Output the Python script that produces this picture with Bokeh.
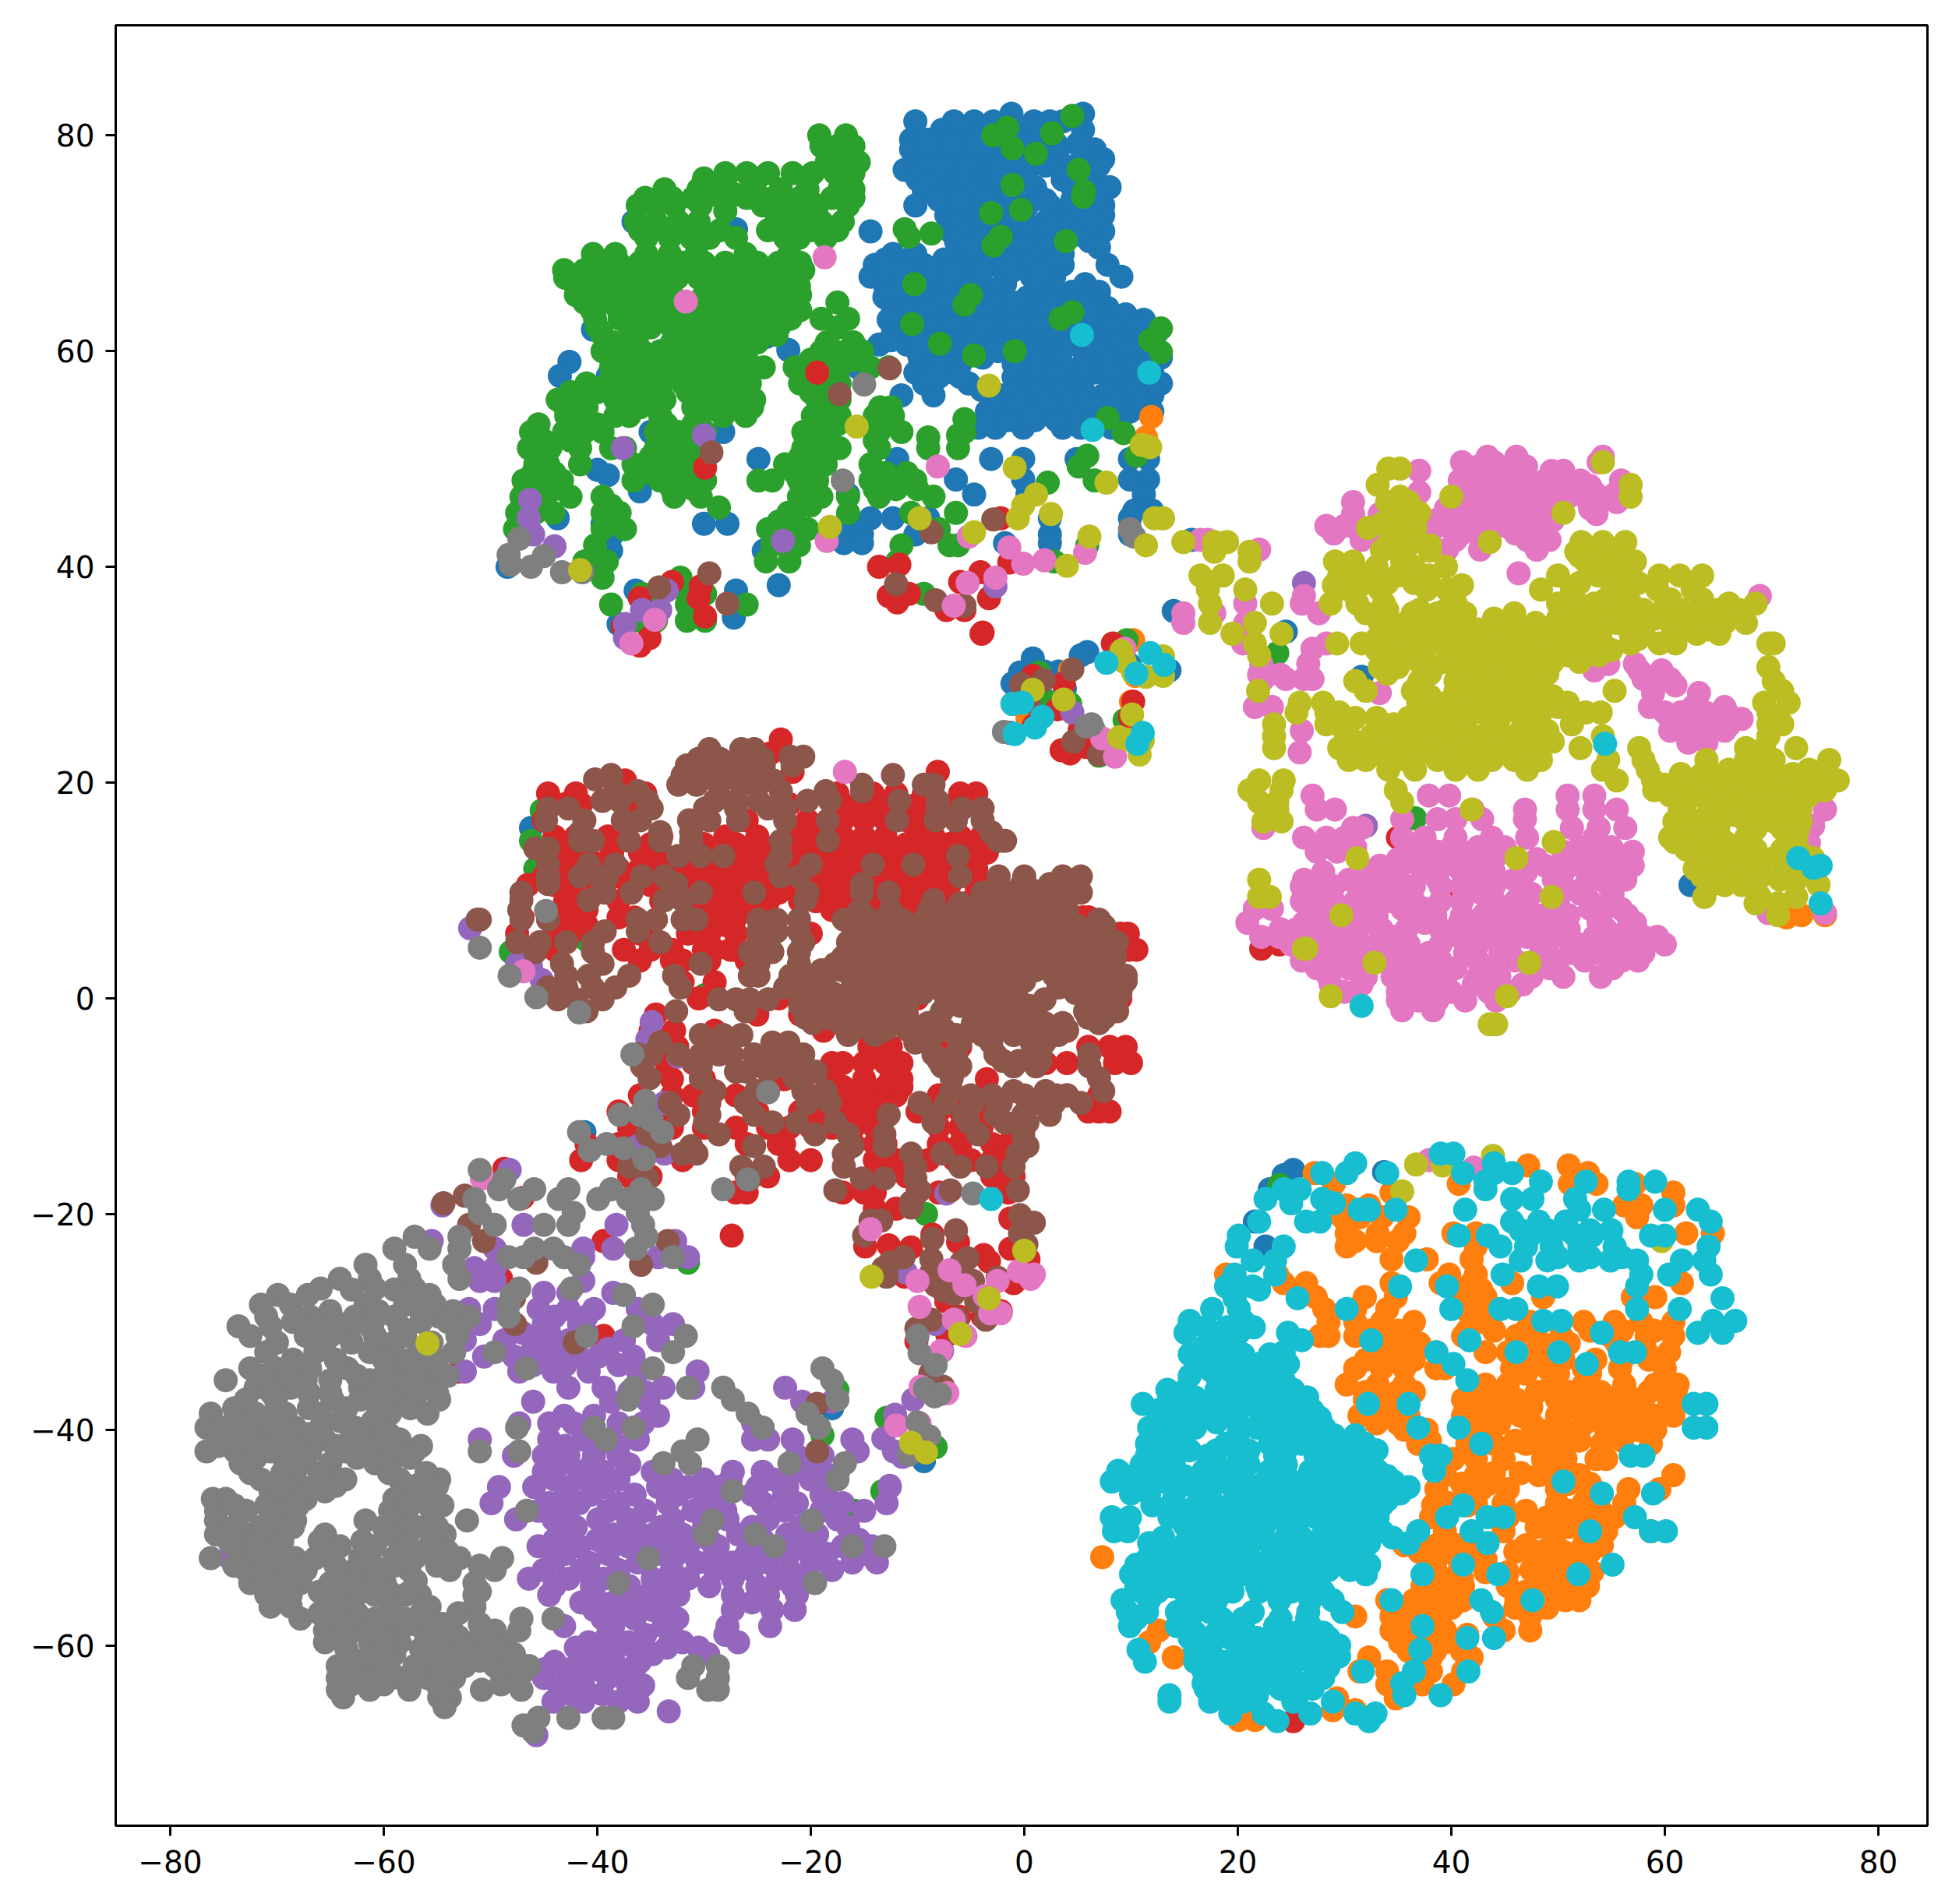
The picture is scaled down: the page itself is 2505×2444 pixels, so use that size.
from bokeh.plotting import figure
from bokeh.embed import file_html
from bokeh.resources import INLINE
from bokeh.models import FixedTicker, Range1d

# each row: (y, [x, x, ...]), in data units
c0_blue = [
(82,[-1.2,5.5]),(81.3,[-6.6,-10.2,-4.7,-2.9,0.9,3.6,2.4]),(80.5,[-7.7,-6,-3,-1,0.9,2.4,5.5]),
(79.6,[-10.6,-9,-6,-3.9,-0.2]),(78.7,[-10.6,-8.1,-5.6,-3.1,0.7,3.2,6.6]),(77.8,[-9.4,-6.9,-3.9,-1,7.4,5.7]),
(76.8,[-11.2,-9.8,-7.3,-4.8,-2.2,0.3,3.6,6.1]),(75.9,[-10,-8.1,-6,-3.5,-0.6,3.6,6.6]),(74.8,[-9.4,-7.3,-4.8,-2.2,1.1,7.4,5.7]),
(73.5,[-10.2,-6.9,-4.8,-2.2,0.3,2.4,5.3,7.4]),(72.6,[-7.3,-5.2,-2.2,-0.1,3.6,5.7,7.4]),(71.1,[-14.4,-6.9,-4.8,-2.7,-0.1,1.1,4,6.1,7.4]),
(70.2,[-6.4,-4.3,-1.8,2.8,6.1]),(69,[-12.3,-10.2,-6.4,-3.9,-1.4,0.7,3.6]),(68,[-14,-11.9,-9.4,-5.6,-2.7,-0.1,1.9,3.6,7.8]),
(66.9,[-14.4,-12.3,-9.8,-8.1,-5.6,-1.8,0.7,2.8,9.1]),(66.2,[-13.1,-10.6,-8.5,-3.9,-1.8,2.4,5.7]),(65,[-13.1,-11,-8.5,-5.6,-3.1,0.3,2.8,6.1]),
(64,[-12.3,-9.8,-6.9,-4.3,-1.8,0.7,3.6,7.8]),(62.9,[-12.7,-10.2,-7.7,-5.2,-2.2,0.3,2.8,6.6,8.7,11.2]),(61.7,[-12.3,-9.8,-7.7,-4.8,-1.8,1.1,3.6,7.4,9.9,12.4]),
(60.6,[-13.6,-11,-8.9,-6.4,-3.9,-1,2,4.9,8.2,11.6]),(59.4,[-9.8,-7.3,-3.9,-0.6,2,5.7,8.7,11.2,12.8]),(58,[-6.6,-10.2,-0.6,2,4.5,6.6,9.5,12]),
(57,[-5.2,-9.4,-0.1,2,4.9,9.1,11.2,12.8]),(55.9,[-11.5,-8.5,-2.2,0.7,3.2,5.3,7.4,10.3,12]),(54.4,[-3.5,-1,1.5,4,6.6,9.9,12]),
(52.9,[-4.3,-2.7,-0.1,3.6,5.3,8.2,-5.4]),(50,[-3.1,-0.1,4.9,9.9,11.6,-24.9,-11.9]),(48.1,[-6.4,-0.1,9.9,11.6]),
(46.7,[-4.7,0.3,11.2,-16.5]),(45.2,[12,10.3]),(44.5,[-16.5,-14.4,-12.3,-9,2.4,9.9]),(43,[-17.3,-15.2,-10.2,2.4,9.9]),(42.2,[-16.9,-15.2,-1.8,2.4]),
(72,[-36.6]),(71.3,[-27]),(62,[-40.4]),(59,[-42.6]),(57.7,[-43.5,-39]),(54.5,[-30.5]),(52.5,[-35,-28.2]),(49,[-40]),(48.5,[-39]),(47,[-36]),
(44.5,[-43.7]),(44,[-39.5,-30,-27.8]),(42.8,[-38.7]),(41.5,[-38.7,-24.4]),(40,[-48.4,-40.8]),(38.3,[-23]),(35.3,[-27.2]),(37.8,[-36.4,-27]),(34.7,[-38]),
(60.1,[-22.1]),(61.3,[-24.2]),(58.5,[-15.6]),
(31.5,[0.8]),(30.2,[-0.4]),(29.2,[-1.1]),(30.3,[3.2,1.9]),(32.1,[5.9]),(31.8,[5.3]),(30.4,[13.6]),(30.9,[9.9]),(24.6,[-1.3]),(28.7,[3.8]),
(42.5,[15.7]),(35.9,[14]),(42.9,[33.3]),(34,[24.5]),(10.5,[62.4]),(29.8,[31.6]),
(-15.9,[25.2]),(-16.4,[24.3]),(-17.7,[23]),(-20.7,[21.6]),(-23,[22.6]),(-16.1,[33.7]),(15.8,[-46.2]),(-12.4,[-41.2]),(-38,[-18]),(-44.2,[-17.5]),(-42.9,[-9.4]),
(79.2,[-9,-7,-4.5,-2,1,3,5]),(77.2,[-8,-5.5,-2.5,0,2,4.8,7]),(75.2,[-9,-5.5,-2.8,-1,1,4.5,6,8]),(74,[-8,-6,-3.5,-1,2,4.5,6.5]),(72,[-6,-3.5,-1,2,4.5,6.5]),
(70.8,[-5.8,-3.5,-1,0.5,2,5]),(69.6,[-5,-2.5,0,2.5,7]),(68.5,[-13,-10.8,-7.5,-4.5,-1.5,1,3]),(67.4,[-13,-11,-8.5,-6.8,-4,-1.2,1.5]),(65.5,[-12,-9.5,-7,-4.5,-2.5,1,4.5,7]),
(64.5,[-11,-7.5,-5.5,-3,-0.5,2,5,7]),(63.4,[-11,-9,-6,-3.5,-1,1.8,4.5,6.5,9.5]),(62.2,[-11,-9,-6.5,-3.8,-1,1.5,5,8,10.5]),(61,[-12.5,-10,-7.8,-5.5,-2.8,0,3,6,9,11]),
(60,[-10,-8,-5,-2.5,1,3.5,7,10,12]),(58.8,[-8.5,-6,-1,1,3.5,5.5,8,10.5]),(57.6,[-8,-6,-1,1,3,5.5,8,11]),(56.4,[-4,-1,1.5,3.5,5.5,8,10.5]),(55.2,[-2.5,-0.5,2,4.5,6,8.5,11]),(53.6,[-3.5,-1.5,1,3,5,7.5,9]),
]
c1_orange = [
(-15.5,[47.2,51]),(-16.2,[52.8,27.2]),(-17.2,[51.1,53.6,40.7,57.2,29]),(-18,[34.4,60.8]),(-19.2,[30.2,56.2,57.8,60.8,32.3]),
(-20.3,[29.8,31.4,33.5,36,57.4]),(-21.8,[30.2,33.1,35.6,40.2,42.3,62,64.5]),(-23,[30.2,42.3]),(-24.2,[34.4,37.7,41.9]),(-25.6,[18.9,23.7,39.8,42.3]),
(-26.4,[26.4,24.3,34.4,39,41.9,45.7,61.6]),(-27.7,[27.3,31.9,34.8,41.1,43.2,48.6,57,59.1]),(-28.8,[28.1,31,34,41.9]),
(-30,[28.5,31,33.5,36.5,42.8,47.4,52.4,55.3,57.8,60.8]),(-31.3,[27.7,28.5,31,34,35.6,41.1,46.1,50.3,54.9,58.3,60.8]),
(-32.8,[34,35.6,38.6,43.2,45.3,47.8,49.9,58.3,60.4]),(-34.3,[31,33.5,35.6,38.6,39.4,45.7,49,52.4,55.8,60]),
(-35.8,[30.2,33.1,35.6,43.2,45.3,49.4,52.4,56.2,59.1,61.2]),(-37.2,[31.9,34,41.1,43.6,46.1,49.9,52.4,54.9,57.4,60.4]),
(-38.7,[31.4,33.5,36,41.1,44,46.5,49.9,52.4,54.5,56.6,59.1,60.8]),(-40,[35.6,37.7,41.1,43.6,48.2,50.7,54.5,57.4,59.1]),
(-41.3,[36.9,41.5,44,47,50.3,54.1,58.7]),(-42.7,[40.2,42.3,44.9,48.6,50.7,53.6,54.5]),(-44.2,[39.4,42.3,48.2,49.4,52,60.8]),
(-45.5,[38.6,42.8,45.3,49.9,52.8,56.6,59.5]),(-46.8,[39.8,42.3,44.9,49.9,52.4,56.2]),(-48.1,[38.1,45.3,49,51.6,53.2,55.3]),
(-49.4,[39.4,44.9,49.9,52.4,54.5,58.7]),(-50.7,[35.6,38.6,40.7,43.2,47,49.4,52.4,54.1]),(-52,[38.6,40.7,43.2,47.8,50.3,52.4]),
(-53.2,[38.6,40.7,43.2,45.3,49,51.1,53.2]),(-54.5,[37.3,39.4,41.1,45.3,48.2,50.7,52.8]),(-55.8,[34,36.5,38.6,41.1,46.1,48.2,50.7,52]),
(-57.3,[31,34.4,36.5,39,44,47.4]),(-58.6,[34.4,36,39.4,44.9,47.4,12.6]),(-59.7,[11.7,35.2,39.4]),(-61.1,[14,32.3,38.1,41.9]),
(-62.4,[31.4,34,36.5,38.1,41.1]),(-63.6,[34,37.3,40.2]),(-64.9,[34.8,29.3]),(-66,[28.9,31]),(-66.9,[20.1,21.6]),(-51.8,[7.3]),
(33.2,[10.2]),(27.3,[-1.1]),(26,[0.3]),(30.4,[4.3]),(29.9,[10.4]),(27.5,[10]),(53.9,[11.9]),(52,[11.4]),(7.7,[72.8,75]),(7.5,[71.4]),
(-33.5,[32,34.5,36.5,47,50.5,53.5,56,58.5]),(-36.5,[32,35,36.5,42,45,48,51,54,56,58.5,61]),(-39.4,[33,35,42,44.5,47.5,50,52.5,55,56.5,58]),
(-37.9,[32.5,34.5,42,45,47.5,51,53.5,55.5,58,60.5]),(-30.8,[32.5,35,41.5,44,47,53,56,59]),(-27,[41.2,42.8]),(-29,[41.5,43]),
(-53,[47.5,50,52]),(-51.3,[46,48.5,50.5,53,37,39,41.5]),(-55,[47,49,51.5,38,40]),(-49,[48,51,53]),(-45,[41,43.5,51,53]),(-47,[38.3,41.5]),(-53.8,[38.5,41]),
(-22.5,[31,33,35]),(-34.8,[47,50,53]),(-32,[36,37,48.5,51,55.5]),(-41,[38,46,49,52,56]),(-44,[44,46.5,50]),(-47.5,[47,51,54]),(-56.5,[35,37.5,40,46,49]),(-59,[37,38.5,41.5]),(-60.5,[36,38.5,41]),
]
c2_green = [
(80,[-19.2,-16.7]),(79,[-19,-17.5,-16]),(77.5,[-18.5,-16.5,-15.5]),(76.5,[-28,-26,-24,-21.7,-19.8,-17.7,-16]),
(75,[-33.7,-30.5,-27.8,-25.3,-22.8,-20.3,-17.3,-16]),(73.5,[-36.2,-34.5,-32.8,-30.3,-24.5,-22,-19.4,-16.5]),
(72,[-36.4,-34.5,-32.4,-30.5,-23.2,-21.5,-19,-17]),(70.5,[-35.4,-33.2,-31.2,-29.5,-27,-22.4,-21.1,-18.6]),
(69,[-40.4,-38.3,-35.4,-33.2,-30.7,-26.1,-22]),(67.5,[-43.1,-41.2,-39.1,-36.6,-34.1,-31.6,-29,-26.5,-24.4,-21.9,-20.7]),
(66,[-42,-40,-37.9,-35.8,-33.2,-29.5,-27,-24.9,-22.8,-21.1]),(64.5,[-41.2,-38.7,-36.2,-34.1,-31.6,-29,-26.5,-24.4,-22.3,-17.5]),
(63,[-40.2,-37.9,-35.8,-34.1,-32,-29,-27,-24.4,-21.9,-19,-16.5]),(61.5,[-39.5,-36.2,-31.6,-28.6,-27,-24.4,-23.2]),
(60,[-39.5,-37.4,-35.8,-34.1,-32,-30.3,-28.2,-26.1,-19,-17.7,-15.2]),(58.5,[-38.7,-36.6,-34.9,-32.4,-30.3,-27.4,-24.4,-21.5,-19.4,-17.3,-14.4,-12.7]),
(57,[-41,-39,-37.5,-35.3,-34,-32,-30,-27.4,-25.7,-21,-19.4,-17.3]),(55.5,[-43.7,-42,-38.3,-37.4,-35.4,-33.7,-30.3,-28.6,-27,-25.3,-19.4,-17.3]),
(54,[-42.9,-41.6,-38.3,-37,-34.1,-30.3,-28.2,-26.1,-19.8,-17.3,-14,-12.3]),(52.5,[-46.2,-43.1,-41.2,-39.5,-34.5,-32.4,-29.9,-20.7,-18.6,-13.6,-11.5,-5.6]),
(51,[-46.4,-44.4,-41.6,-38.7,-37.4,-34.5,-32.4,-20.7,-18.6,-17.3,-13.6,-9,-6.2]),(49.5,[-45.8,-44.6,-41.6,-36.6,-34.1,-32.4,-30.3,-22.4,-20.3,-18.6,-14.4]),
(48,[-46.9,-45.4,-43.3,-36.6,-34.1,-32.8,-29.9,-24.9,-23.6,-21.1,-19.4,-14.4,-12.3,-10.2]),(46.5,[-47.1,-45,-42.5,-39.5,-32.8,-30.3,-21.1,-19,-16.5,-13.6,-8.5]),
(45,[-47.5,-45.8,-44.1,-39.5,-37.9,-22.1,-16.5,-10.6,-6.4]),(43.5,[-47.7,-39.5,-37.4,-24,-22.4,-20.3,-8]),(45.5,[-28.6]),
(42,[-40.2,-23.6,-21.1,-11.5,-7,-6.2,5.9]),(40.5,[-41.2,-39.1,-24.2,-22,-11.9,2.8]),(39,[-39.5,-32.2]),
(37.5,[-35.8,-34.1,-31.6,-29.9,-9.4]),(36.5,[-38.7,-26,-31.6]),(35,[-31.6,-29.9,-36,-34.5]),
(81.8,[4.5]),(80.2,[2.6]),(80.7,[-1.6]),(80,[-2.9]),(78.8,[-1.1]),(78.3,[1.1]),(76.8,[5.1]),(74.8,[5.6]),(74.3,[5.5]),(75.4,[-1.1]),(73.1,[-0.3]),(72.8,[-3.1]),
(70.6,[-2.2,-10.8]),(69.8,[-2.9]),(70.2,[3.9]),(66.2,[-10.3]),(65.2,[-5]),(64.3,[-5.6]),(62.5,[-10.5]),(60.7,[-7.9]),(59.6,[-4.7]),(60,[-0.9]),(63.6,[4.5]),(63,[3.4]),
(71.3,[-11.2]),(70.9,[-8.7]),(52,[-9]),(52.2,[-6.2]),(53.7,[-5.6]),(61,[11.8]),(62.1,[12.8]),(59.9,[12.8]),(53.8,[7.8]),(52.4,[9.3]),(50.3,[10.5,5.9]),(49.3,[5.1]),(48,[6.6]),(47.8,[2.2]),
(17.4,[-45.2]),(14.6,[-46.2]),(12,[-45.8]),(12.2,[-42.7]),(5.4,[-41]),(4.3,[-48.1]),(6.2,[-42.9]),(-20,[-9.2]),(0.3,[-29.9]),
(-36.3,[-17.5]),(-40.5,[-18.9]),(-47.5,[-15.9]),(-45.7,[-13.3]),(-38.9,[-12.9]),(-41.6,[-8.3]),(-24.5,[-31.5]),
(32,[23.7]),(16.7,[36.6]),(33.2,[9.6]),(30.2,[1.4]),(27.7,[1.9]),(27.3,[4.3]),(25.8,[9.4]),(24.9,[6.5]),(22.5,[7]),(-17.3,[23.9]),
(74.2,[-35.5,-33,-31,-26,-23.5,-21,-18,-16]),(71.2,[-36,-33.5,-31.5,-28.5,-24,-22,-20,-17.5]),(68.2,[-38,-36,-34,-32,-30,-28,-25,-23,-21]),
(66.8,[-43,-41,-39,-37,-35,-32.5,-30.5,-28,-26,-23.5,-22]),(65.2,[-42,-39.5,-37,-35,-33,-30,-28,-25.5,-23.5,-21]),(63.8,[-40.5,-38,-36,-33,-30.5,-28,-26,-23,-21]),
(62.2,[-40,-37,-35,-33,-30,-28,-25.5,-23,-17.5]),(60.8,[-38.5,-36.5,-33,-31,-29.5,-27.5,-25,-18.5,-16]),(59.2,[-38,-35.5,-33.5,-31,-29,-26,-20,-18,-16]),
(57.8,[-37,-35,-33,-31,-29,-27,-26,-20,-18]),(56.2,[-42.5,-40,-38.5,-36,-31.5,-29.5,-27.5,-26,-20,-18.5]),(54.8,[-43,-41,-38,-36,-31,-29,-27,-25.5,-18,-12.5,-13.5]),
(53.2,[-45.5,-42,-40,-33.5,-31,-19.5,-17.5,-13]),(51.7,[-45,-42.5,-33.5,-31.5,-19.5,-14]),(50.2,[-45.5,-35,-33,-31,-21,-19]),(48.7,[-46,-44,-35,-33,-31,-21.5,-20,-13,-11]),
(47.2,[-46,-44,-33,-31,-20,-14,-12,-10]),(45.7,[-46,-38.7,-21,-20]),(44.2,[-38.5,-21.5,-23]),(76,[-30,-28,-25]),(74.5,[-29,-27,-25,-23]),(73,[-28,-23,-21]),
]
c3_red = [
(24,[-22.8]),(22.7,[-23.8]),(21,[-21.7,-8.1]),(20.2,[-37.4]),(19,[-14.2,-12,-9.4,-6,-4.5,-17.5,-35.5,-44.6,-42]),(18,[-43,-41.5,-36.4,-17,-15,-13,-10,-8,-6,-22]),
(16.5,[-17,-15,-13,-11,-9,-26,-20.3,-45]),(15,[-44,-42,-39,-37.5,-34,-28,-25,-21,-19,-17,-15,-13,-10,-8.5,-6,-4]),
(13.5,[-43,-41,-38.6,-36,-34,-31,-28,-26,-24.5,-21,-19,-16.5,-14.5,-12,-10,-8,-5.5,-3.5]),
(12,[-44,-42.5,-38,-36,-34.5,-33,-31,-29,-27,-25,-23,-20,-18,-16,-14,-12,-9,-7.5,-5.5,-4.5]),
(10.5,[-46.5,-44,-42,-40,-37,-35,-31.5,-29,-27,-25,-22,-20,-18.5,-16,-14,-11.5,-9,-7,-4.5,-3]),
(9,[-43,-41,-38,-34,-31,-29,-27,-24,-21,-19.5,-18,-14,-12,-10,-8,-5]),(7.5,[-47,-44,-42,-38,-36.5,-31,-28,-27,-17,-11.5,-10.5,-7,5.5,6]),
(6,[-47.5,-44,-42.5,-40,-36,-35,-31.5,-29.5,-27,-20,-16,-10,-7,9,9.7]),(4.5,[-46,-44,-37.5,-35,-33,-30,-29,-27.5,-27.2,-13.5,-10,9.8,10.5]),
(3.5,[-36,-33,-32,-29.5,-26,-5]),(1.5,[-32,-29,-21,-20.3,-16,-9.5,-2]),(0,[-30.5,-23,-21,-10.5,-10,9]),(-1.5,[-34.5,-25,-21,-11]),
(-3,[-35,-32.8,-29,-18.8,-15,-5,3,4]),(-4.5,[-32.5,-14.5,-12.5,-8,-6,6,9.5,8]),(-6,[-33.5,-31,-18,-17,-15,-13,-11.5,-7,2,4,8.5,10]),
(-7.5,[-33,-30,-22.5,-18,-15,-12.5,-11.5,-3.5]),(-9,[-36,-33,-31,-27,-20,-18,-16.5,-14,-12,-8,-4,4,7]),
(-10.5,[-38,-34.5,-30,-25,-21,-19,-16,-13.5,-10,-8,-6,-4,6,7,8]),(-12,[-37,-36,-33,-30,-27,-24,-22,-20,-18,-16,-14,-8,-6,-4]),
(-13.5,[-41,-38,-26,-23,-22.5,-16,-14,-13,-8,-6,-3,-1.5]),(-15,[-41.5,-38,-36,-32,-22,-20,-14,-12,-9,-6.5,-5,-3,-2]),
(-16.5,[-37,-35,-26,-24,-14,-11,-13,-3,-1]),(-18,[-27,-26,-17,-15,-14,-10,-8,-1.5]),(-19.5,[-14,-12]),(-22,[-27.4]),
(-15.8,[-48.7]),(-18.5,[-47]),(-22.5,[-39.4]),(-26,[-49]),(-34.6,[-53]),(-31.3,[-39.4]),
(9.7,[39.8]),(4.6,[22.2]),(5,[23.9]),(9.8,[26.2]),(14.9,[35]),(-67,[25.2]),
(58,[-19.4]),(49.2,[-29.9]),(38.6,[-33,-6]),(37.1,[-36,-30.5,-3.3]),(38.2,[-30.3]),(35.4,[-29.9]),(33.4,[-35.1]),(32.7,[-36]),(34.5,[-37.6]),
(40,[-13.6]),(40.2,[-11.7]),(37.3,[-12.7]),(37.5,[-10.8]),(36.7,[-11.9]),(44.5,[-2.2]),(39.5,[-4.1]),(36,[-7.3,-5.6]),(33.9,[-3.9]),(40.4,[-1.4]),
(32.9,[8.3]),(29.9,[0.8]),(29.2,[3.7]),(26.8,[3.1]),(25.3,[0.9]),(24.9,[5.2]),(23,[3.5]),(22.7,[4.3]),(23.3,[5.8]),(27.5,[10.2]),(26.1,[9.9]),(33.8,[-4]),
(-22.9,[-12.7]),(-23.1,[-10.6]),(-21.9,[-8.6]),(-22.6,[-6.2]),(-23.8,[-3.8]),(-24.4,[-3.3]),(-23,[-14.9]),(-20.4,[-1.3]),(-23.2,[-1.3]),(-24.2,[0.4]),(-26.4,[-1]),
(-25.8,[-11.2]),(-28.1,[-7.3]),(-29.5,[-3.9,-6.1]),(-29,[-2.2]),(-31.2,[-7.2]),(-31.8,[-10.1]),
(17.3,[-16,-14,-12,-10]),(14.3,[-35,-30,-27,-23,-20,-18,-16,-13.5,-11,-9,-7]),(12.8,[-43,-39,-35,-32,-30,-28,-26,-22,-19,-17,-15,-13,-10,-8.5]),
(11.3,[-45,-43,-38,-30,-28,-26,-24,-21,-19,-17,-15,-13,-10,-8]),(9.8,[-42,-30,-28,-26,-23,-19,-17,-13,-11]),(8.2,[-43,-41,-30,-28,-26,-18,-16,-12]),(6.8,[-44,-41,-30,-28]),
(-8.2,[-17,-15,-13,-11.5]),(-9.8,[-17,-15,-13]),(-11.2,[-20,-18,-16,-14]),
]
c4_purple = [
(-15.9,[-48.2]),(-19.2,[-54.5]),(-21,[-38.2,-46.9]),(-22.5,[-55.5,-32.7]),(-23.2,[-41.3,-38.5,-49.6]),(-24,[-31.5,-34.3,-41.3]),(-25,[-51.5,-49.6]),(-26.2,[-51,-41.3,-49.6]),
(-27.3,[-45,-42.7,-38.5]),(-28.8,[-52,-49.6,-45.5,-42.7,-40.3,-36.2]),(-30.2,[-51,-47.8,-45,-41.7,-34.8,-32.9]),(-31.7,[-52.4,-48.7,-45.9,-42.7,-37.5,-34.3]),
(-33.2,[-50.6,-47.8,-45,-41.7,-39.9,-36.6]),(-34.6,[-52.4,-47.3,-44.1,-40.8,-36.2,-30.6]),(-36.1,[-42.7,-39.4,-33.8,-31,-22.4]),(-37.4,[-46,-38.7,-35.2,-20.8,-18]),
(-38.7,[-43.1,-40.3,-34.3]),(-39.4,[-47.3,-44.5,-42.2,-38,-35.7,-25.4]),(-40.9,[-44.5,-41.3,-36.2,-21.7,-25.4,-24,-16.1,-51]),
(-42.4,[-47.8,-45,-42.7,-40.3,-38,-21.3,-18.9]),(-43.9,[-45,-41.7,-39.4,-34.8,-27.3,-24.5,-21.7,-18.9]),
(-45.3,[-49.2,-45.9,-42.7,-39.4,-34.3,-31.5,-28.7,-25,-22.2,-18.5,-12.6]),(-46.8,[-49.9,-44.5,-41.7,-38,-33.4,-29.2,-24.5,-21.3,-17,-12.9]),
(-48.3,[-47.6,-44.1,-39.9,-37.1,-32.9,-27.8,-24,-17.5]),(-49.7,[-43.1,-38.5,-34.8,-32,-26.8,-22.2,-19.4]),
(-50.8,[-45.5,-41.7,-37.1,-31.5,-28.7,-25.4,-20.8,-17,-14.3]),(-52.3,[-44.1,-40.8,-36.2,-30.6,-27.3,-24,-19.9,-16.1,-13.8]),
(-53.8,[-46.4,-42.7,-39.4,-34.8,-31.5,-27.3,-23.1,-20.3]),(-55.3,[-44.5,-40.3,-35.2,-32.4,-27.3,-24,-21.3]),(-56.7,[-40.3,-38,-34.8,-27.3,-23.6,-21.5]),
(-58.2,[-43.1,-38.5,-33.8,-27.8,-23.8]),(-59.7,[-40.8,-37.1,-32,-26.8]),(-60.8,[-41.3,-38.5,-34.8,-29.6]),(-62.2,[-45,-42.7,-40.3,-37.1]),
(-63.7,[-43.6,-41.3,-37.1,-35.7]),(-65.2,[-41.3,-38,-36.2,-44.1]),(-66.1,[-33.3]),(-68.3,[-45.7]),(-51.8,[-74.5]),
(52.2,[-30]),(51,[-37.6]),(46.2,[-46.3]),(44.5,[-46.4]),(43,[-46]),(41.9,[-44]),(42.4,[-22.6]),(37.8,[-33.5]),(36,[-35.8,-34.1]),(34.7,[-37.4]),(33.4,[-37.4]),(38.2,[-2.7]),
(38.5,[26.2]),(16,[32]),(26.5,[4.5]),
(-2.2,[-34.9]),(-3.8,[-35.3]),(3.2,[-47.5]),(2.9,[-46.2]),(1.7,[-45.2]),(-18.1,[-7.3]),(-9.7,[-33.7]),(-5.4,[-32.4]),(-13.7,[-36.2]),(-14.4,[-33.7]),(6.5,[-51.9]),
(-25.4,[-11.1]),(-30.2,[-8.3]),(-32.7,[-7.7]),(-37.2,[-10.4]),(-38.6,[-12.1]),(-40.8,[-13.2]),(-42,[-12.2,-15.6]),(-42.5,[-11.4]),(-45.2,[-12.6]),
(-29.5,[-44,-41]),(-31,[-47,-44.5,-41]),(-32.5,[-46,-44,-42,-39]),(-34,[-46,-43,-38]),(-36.5,[-37,-35.5]),(-41.5,[-43,-40,-38]),(-43.2,[-43.5,-40.5,-37,-20]),
(-44.6,[-44,-41,-38,-33,-30,-27.5,-23.5,-20]),(-46,[-43,-40.5,-36.5,-32.5,-30,-25.5,-22.5,-19]),(-47.5,[-45.5,-43,-39,-35.5,-31,-28,-22.5,-19,-15]),
(-49,[-42,-36.5,-34,-30,-25.5,-21,-16.5]),(-50.2,[-44,-40,-36,-33,-29.5,-24.5,-20,-15.5]),(-51.5,[-43,-39,-34,-32.5,-29,-26,-22,-18.5,-15]),
(-53,[-45,-41.5,-38,-33,-29,-25.5,-22,-18]),(-54.5,[-44,-40.5,-37,-33.5,-29.5,-25,-21.7]),(-56,[-41.5,-38.5,-36.5,-33.5,-25.5]),(-57.5,[-39.5,-36.5,-32.5]),(-59,[-39,-35.5,-33,-28]),
(-60.2,[-42,-39.5,-36.5,-33.5,-30.5]),(-61.5,[-44,-41.5,-39,-36]),(-63,[-45,-42.5,-39,-36.5]),(-64.5,[-42.5,-39.5,-37]),
]
c5_brown = [
(23.1,[-29.5,-26.5,-25.3]),(22.4,[-21.9,-20.7]),(21.6,[-31.6,-29.5,-27.8,-26.1,-24.4,-21.7]),(20.7,[-38.7,-12.3,-32,-29.9,-27.4,-25.3]),(20.3,[-40.2]),
(19.8,[-32.4,-30.7,-28.6,-26.5,-24.9,-15.2,-8.5,-9.4]),(19.2,[-36.2,-38.3,-22.8,-18.6,-15.2]),(18.3,[-39.5,-37.9,-35.3,-29,-27,-24.9,-18.2,-20.3,-11.7,-8.1]),
(17.6,[-44.6,-42.7,-34.9,-29.9,-27,-24,-22.4,-8.1,-5.8,-3.9]),(16.5,[-44.8,-41.2,-37.6,-36,-31.4,-29.5,-26.8,-22.4,-18.4,-11.9,-8.3,-6.4,-3.9]),
(15.4,[-41.6,-34.1,-31.2,-3.1]),(14.6,[-34.1,-31.2,-41.6,-40.4,-37,-22.8,-18.4,-2.4,-1.8]),(13.9,[-45.8,-44.6]),(13.2,[-32.4,-30.3,-28.2,-22.8,-6.2]),
(12.4,[-44.6,-40.8,-38.3,-23.2,-20,-14.2,-10.4]),(11.3,[-44.6,-41.6,-39.1,-35.8,-33.7,-22.8,-21.1,-6,-2.4,0,3.6,5.3]),(10.6,[-44.6,-39.5,-32.6,-15.2,-0.2,2.4,4.5]),
(9.8,[-47.1,-39.3,-36.8,-30.3,-25.3,-20.3,-15.2,-12.7,-3.9,-0.2,1.9,5.3]),(9.1,[-47.1,-40.8,-33.7,-32,-20.5,-8.5,-3.9,-1.8,0.7,3.2]),
(8.2,[-47.3,-15.4,-12.5,-8.9,-5.6,-3.1,-0.6,1.9,4]),(7.3,[-47.1,-44.6,-36.2,-34.5,-32,-30.7,-24.9,-23.2,-21.1,-16.9,-14.4,-11.5,-9.4,-6,-3.5,-1,1.5,4,7]),
(6.2,[-39.3,-36.2,-24.9,-23.2,-21.1,-15.2,-11.9,-10.2,-6.4,-3.9,-1.4,1.1,3.2,6.6]),(5.2,[-47.5,-45.4,-42.9,-40.4,-34.1,-24.9,-20.7,-16.5,-13.6,-10.6,-8.1,-5.6,-3.1,-0.6,1.9,4.5,8.7]),
(4.3,[-45.8,-40.4,-25.7,-23.6,-21.1,-16.5,-12.3,-10.2,-7.7,-5.2,-2.7,-0.1,2.8,5.3,7.4]),
(3.2,[-43.3,-39.5,-30.3,-24.9,-21.1,-17.7,-15.2,-11.9,-9.8,-6.9,-4.3,-2.7,-0.1,2.8,5.3,7.8]),
(2.1,[-42.9,-40.8,-37,-32.8,-25.7,-24.9,-21.9,-18.6,-16.1,-13.6,-11.5,-8.9,-6.4,-4.8,-0.6,2.8,5.3,9.5]),
(1,[-44.6,-42.9,-40.4,-38.3,-32.2,-22.4,-19,-16.1,-13.6,-11,-8.5,-6,-1.4,3.2,6.1,9.1]),
(-0.1,[-43.7,-42,-39.5,-28.6,-27,-25.7,-24,-19.8,-17.3,-14.4,-11.9,-7.3,-4.8,-2.7,-0.6,1.9,6.1,8.2]),
(-1.2,[-41,-32.6,-26.1,-20.3,-17.7,-15.6,-12.3,-7.7,-4.8,-2.7,-0.1,5.7,8.7]),(-2.3,[-19.8,-17.3,-14.8,-11.9,-9,-4.8,-2.7,1.9,3.6,7]),
(-3.4,[-30.3,-28.2,-26.5,-16.5,-14,-10.2,-8.5,-6.4,-3.9,-1,1.1,3.2]),(-4.1,[-34.1,-29.5,-23.6,-22.1,-10.2,-6,-3.1,0.7,1.9]),
(-5.2,[-36.2,-34.9,-32.4,-30.3,-28.6,-27.4,-25.3,-23.2,-20.7,-8.5,-6.4,-2.7,1.5,6.1]),(-6.3,[-35.8,-30.3,-23.2,-21.5,-7.7,-6,-1,1.1,6.1]),
(-7.4,[-35.1,-30.3,-21.5,-6.8,7]),(-8.6,[-29,-25.1,-20.7,-18.6,-6.8,-1,2,7.4]),(-9.7,[-33.2,-29.5,-26.1,-20.3,-18.2,-9.8,-7.3,-4.8,-2.2,1.1,2.8,5.3]),
(-10.8,[-12.7,-32.4,-29.5,-25.3,-8.5,-5.6,-2.7,-0.1,2.4]),(-11.5,[-29.9,-23.6,-21.3,-17.7,-8.5,-5.2,-1.8,0.3]),(-12.6,[-28.6,-19.6,-16.5,-13.1,-4.3,-0.1,-35.3]),
(-13.7,[-34.1,-31.2,-25.3,-16.1,-13.1,0.3]),(-14.4,[-32,-30.7,-16.9,-10.6,-7.7,-0.6]),(-15.6,[-37,-26.5,-24.4,-16.9,-10.2,-6,-3.5,-1]),
(-16.7,[-35.3,-15.2,-13.1,-10.2,-25.7]),(-17.8,[-17.7,-9.8,-6.9,-0.6]),(-18.9,[-10.6]),
(-19,[-54.4]),(-18.3,[-52.4]),(-21,[-52]),(-22.5,[-50.6,-33.4]),(-27.8,[-47.8]),(-30.2,[-47.7]),(-31.9,[-42.1]),(-24.7,[-35.9]),(-24.5,[-45.7]),(-42,[-19.4]),(-37.6,[-19.4]),
(58.4,[-12.6]),(56,[-17.3]),(50.6,[-29.3]),(38.1,[-34.2]),(39.4,[-29.5]),(36.6,[-27.8]),(38.4,[-12]),(43.2,[-8.7]),(44.4,[-2.9]),(36.9,[-8.3]),(36.4,[-5.6]),
(29.1,[-0.3]),(29.5,[1.8]),(30.5,[4.5]),(23.8,[4.6]),(22.6,[7]),(27.5,[0.4]),(7.3,[-51,-51.2]),
(-20.6,[-14.4,-13.4]),(-22,[-15]),(-19.4,[-10.6]),(-20.1,[-0.4]),(-20.8,[0.9]),(-21.8,[-0.4]),(-22.8,[0.2]),(-22.3,[-8.6]),(-21.5,[-6.4]),(-24,[-11.3]),(-24.5,[-12.6]),(-25,[-13.2]),
(-25.8,[-12.9]),(-24.2,[-8.7]),(-25.4,[-8.7]),(-24.1,[-5.3]),(-24.5,[-5.9]),(-26.2,[-4.8]),(-26.6,[-8.3]),(-27.1,[-7.6]),(-27.4,[-6.6]),(-28.1,[-4.5]),(-29.8,[-8.7]),(-30.6,[-10.1]),
(-29.7,[-6.3]),(-29.8,[-3.6]),(-34.8,[-8.8]),(-36,[-7.6]),(-25.9,[-2.5]),
(10,[-2,0.8,3,4.5]),(8.8,[-6,-2.5,-0.5,1.5,3.8]),(7.8,[-7,-4.5,-2,0.5,3]),(6.7,[-13,-8,-5,-2.5,0,2.2,5,7.5]),(5.7,[-15,-12,-9.5,-7,-4.5,-2,0.5,2.5,5,7.8]),
(4.8,[-15,-11,-9,-6.5,-4,-1.5,1,3.5,6.3,8.5]),(3.8,[-17,-14,-11,-8.5,-6,-3.5,-1,1.5,4,6.3,8.5]),(2.6,[-19,-17,-14,-11,-8,-5.5,-2,1,4,6.5,8.5]),
(1.6,[-20,-15,-12.5,-10,-7.5,-5,-3,0,4.5,7.5,9.5]),(0.5,[-21,-18,-15,-12.5,-9.5,-7,-3.5,-1,4.8,7,9]),(-0.7,[-21,-19,-16,-13.5,-11,-6,-3.5,-1.5,0.5,7,8]),
(-1.8,[-20.5,-18.5,-13.5,-11,-8,-3.5,-1.5,1,6,7.5]),(-2.9,[-16,-13,-11,-9.5,-7.5,-5,-2.5,0,2,4]),(-5.8,[-31,-24,-22,-8,-7,-2,-0.5,1.5]),(-9,[-5,-3,0,3,4]),
(22.2,[-30.5,-28.5,-26.5,-24.5]),(20.2,[-31,-28.5,-26.5,-23.5]),(-6.8,[-27,-26,-24,-19.5]),
]
c6_pink = [
(50.2,[43.4,46.1,54.2]),(49.7,[41,44,53.8]),(48.9,[43.4,45.9,49.4,50.5,37]),(48,[40.8,42.9,45.4,48.8,50.5,52.1,55.9]),(46.9,[37,42.1,44.6,47.1,49.6,53.4,55.5]),
(46,[30.8,40,44.6,46.7,49.6,53.4,55.5]),(44.9,[33.3,30.8,40.8,43.8,46.3,48.8,53.6]),(43.8,[28.3,30,39.6,42.1,45,48.4]),(42.5,[31.6,40.4,42.9,47.1,49.2,16.5,17.2]),
(41.6,[39.6,42.7,48,22]),(39.4,[46.3]),(37.3,[26.2,68.9]),(36.6,[26,20.7]),(35.7,[14.9,27.6,17.8]),(34.8,[14.9,20.7]),(32.9,[28.3,20.5]),(32.4,[27]),
(31,[22.2,26.6,57.2,54.7]),(30.4,[53.4,57.6,59.7]),(29.6,[22.4,24.5,26.2,27,58,60.5]),(28.3,[33.3,58.9,63.2]),(27,[21.6,23.2,58.6,62.6,65.6]),
(25.9,[60.5,62.6,65.1,67.2]),(24.8,[26,60.5,63,65.6]),(23.7,[62.2,63.9]),(22.8,[25.8]),(18.8,[27,37.9,39.8,50.9,53.4]),(17.5,[27.4,29.1,42,46.9,50.9,53.4,55.5,75]),
(16.6,[35.4,38.7,40.4,42.9,46.9]),(15.8,[22.4,31.6,30.8,56.3,51.3,53.8]),(14.9,[26.2,28.3,30,35.4,37.5,40.4,43.8,47.1,53.4]),
(13.6,[27.4,29.3,35.8,38.7,42.1,50.5,53.4,57]),(12.3,[33.3,37,40.4,42.9,48.8,52.1,55.1,57]),(11,[26.2,30.4,33.3,38.7,42.5,45.9,49.6,53.4,56.3]),
(9.7,[27.4,32.9,35.4,42.9,47.5,52.1,55.1]),(8.3,[21.6,23.2,27,32.5,35.4,37.5,44.2,47.1,53,55.9]),(7,[20.9,26.2,28.7,32,37.5,40.8,43.3,46.7,49.6,53.8,57.2]),
(5.7,[22.2,23.9,27,30.4,34.6,40.8,43.8,47.1,50.5,53.4,55.9,58,59.3]),(4.2,[27,30,34.6,37.9,41.3,44.6,48.4,51.3,53.8,58]),(2.8,[27.4,30.4,35.4,38.3,40.4,43.8,49.2,55.1]),
(1.3,[28.7,31.6,36.2,38.7,42.1,46.7]),(-0.2,[35,37,38.7,41.3,44.2]),(-1.1,[35.4,38.3]),(16,[73.9]),(14.4,[73.5]),(12.9,[70.6]),(7.9,[69.7,75]),
(68.7,[-18.7]),(64.6,[-31.7]),(49.3,[-8.1]),(42.4,[-18.5]),(42.8,[-5.2]),(41.8,[-1.4]),(40.3,[-0.1]),(40.6,[1.9]),(41.3,[5.7]),(38.5,[-5.3]),(39,[-2.7]),(36.4,[-6.6]),(35.1,[-34.6]),(32.9,[-36.8]),
(32.4,[9.4]),(24.1,[7.3]),(22.4,[8.5]),(21,[-16.8]),(2.5,[-46.9]),(-16.7,[-50.8]),
(-21.4,[-14.4]),(-25.2,[-7]),(-26.2,[-10,-2.5]),(-26.6,[-5.6]),(-28.6,[-9.8]),(-25.3,[-0.5]),(-26,[0.6]),(-25.6,[0.9]),(-27.6,[-3.7]),(-29.8,[-6.6]),(-31.3,[-5.5]),(-29.2,[-3.2,-2.2]),
(-32.7,[-7.8]),(-36,[-9.7]),(-36.6,[-7.2]),(-39.6,[-12]),(-39.4,[-9.8]),(-15,[37.9]),(-15.7,[42.1]),
(49.3,[42.5,44.5,47]),(47.5,[41.5,43.8,46,47.5,49.5,51,53]),(46.5,[40.5,43,45.5,48.3,51,52.5,55]),(45.4,[39.5,42,44,46,48,50,53]),(44.3,[38.5,40.5,43,44.5,46.5,47.5,49.5]),(43.1,[38,41,43.5,46,48,29,31.5,33]),
(29,[59,61]),(26.5,[60,61.5,63.8,65.8]),(25.3,[60.8,62,64,66]),(14,[31,37,40,42.5,45,52,55]),(12.9,[35,39.5,41.5,44,48,51,54,56]),(11.7,[28,31.5,35,38,41,44,47,50.5,54,56]),
(10.4,[26,29,31.5,34,36.5,39,41,44,46.5,50.5,52.5,54.8]),(9,[26,29,31,34,36.5,39,41,44,46,50,53,55]),(7.7,[28,30.5,33,36,38.5,41,43,45.5,48.5,51,54,56.5]),
(6.4,[24,25.5,28,30,33.5,35.8,39,42,45,48,51,54.5,56.5]),(5,[25,28.5,31.5,33,36,39,42.5,45.5,49,52,55,57,60]),(3.5,[26,29,31,33.5,36.5,39,42.5,46,50,52.5,56,57.5]),
(2,[28.5,32,34.5,37,39.5,42.5,44.5,47.5,50.5,54]),(0.6,[30,35,37.5,40,43.5,45.5]),(30,[22,24]),
]
c7_gray = [
(-15.9,[-51]),(-16.8,[-48.7,-25.9]),(-17.7,[-45.9,-42.7,-49.2,-28.2,-35.9,-38.7]),(-18.6,[-51.5,-47.3,-43.6,-39.9,-37.1,-34.8]),(-19.9,[-51,-42.2,-36.2]),(-21,[-49.6,-45,-42.7,-35.7]),
(-22.1,[-52.9,-57.1,-35.4]),(-23.2,[-59,-55.7,-52.9,-45.9,-44.1,-36.4]),(-24,[-48.3,-46.9,-43.1,-32.9]),(-24.7,[-61.7,-58,-53.4,-41.7]),(-26,[-64.1,-61.3,-57.6,-52.9]),
(-26.9,[-65.9,-60.8,-57.1,-47.3,-42.4]),(-27.5,[-69.9,-67.1,-55.7,-48,-37.5]),(-28.4,[-71.5,-68.7,-61.7,-58,-55.2,-48.3,-34.8]),(-29.5,[-71,-66.9,-62.7,-59,-54.8,-52,-48.3]),
(-30.4,[-73.6,-70.6,-66.4,-63.1,-61.3,-58.5,-52.9,-36.6]),(-31.3,[-72.5,-67.3,-65,-60.8,-58,-53.1,-41,-31.7]),(-32.8,[-71,-66.4,-61.3,-59.4,-56.6,-53.4,-49.6,-32.9]),
(-34.3,[-72.5,-70.1,-66.9,-63.4,-58.5,-55.7,-46.6,-34.8,-18.9]),(-35.4,[-74.8,-70.1,-67.3,-65,-61.3,-59,-55.2,-18]),(-36.1,[-72,-68.7,-62.2,-56.2,-36.6,-31.5,-28.2]),
(-37.2,[-72.9,-70.1,-64.8,-62.2,-59.4,-57.1,-54.8,-37.1,-27.3,-17.5]),(-38.5,[-76.2,-72,-69.2,-65.9,-59.4,-55.9,-25.9,-20.3]),
(-39.8,[-76.6,-75.2,-71,-68.3,-65.9,-62.7,-47.5,-40.3,-36.6,-24.5,-19.2]),(-40.9,[-74.3,-70.6,-65.5,-63.1,-60.4,-58.5,-39.2,-30.6]),
(-42,[-76.6,-73.9,-70.6,-66.9,-63.6,-60.8,-57.1,-51,-47.3,-32]),(-43.1,[-73.4,-69.2,-67.6,-65,-60.8,-33.8,-31.3,-22,-16.8]),(-44.6,[-71.5,-68.3,-65,-63.6,-58.5,-54.8,-17.5]),
(-45.7,[-70.6,-68.7,-65.5,-58,-56.2,-27.3]),(-46.4,[-76,-74.8,-70.1,-67.3,-59,-55.7]),(-47.5,[-75.7,-72.9,-69.2,-59.4,-55.5,-46.6]),(-48.4,[-75.7,-70.6,-68.3,-61.7,-58.5,-52.2,-29.2,-19.9]),
(-49.7,[-75.7,-72.9,-70.1,-65.5,-59.4,-54.3,-29.9,-25.2]),(-50.8,[-73.9,-71,-64.1,-60.8,-57.6,-54.6,-23.4,-16.1,-13.1]),(-51.9,[-76.2,-72.9,-68.3,-66.4,-62.2,-59,-57.1,-52.9,-48.9,-35.2]),
(-53,[-72.9,-69.7,-67.3,-62.7,-57.6,-53.8,-49.6]),(-54.2,[-72.5,-70.1,-67.8,-65,-59.9,-51.5,-38,-19.6]),(-55.3,[-71,-68.7,-64.1,-60.8,-58,-56.6,-51.5]),
(-56.4,[-70.6,-68.7,-65,-63.1,-59.4,-55.7,-51.5]),(-57.5,[-67.8,-64.1,-60.8,-58,-47.1,-44.1]),(-58.6,[-65.5,-62.2,-59,-56.2,-53.6,-49.6,-47.3]),(-59.7,[-65.5,-61.3,-58.5,-54.8,-51.5,-48.7]),
(-60.8,[-61.3,-59,-53.8,-51,-47.8]),(-61.9,[-64.3,-61.3,-57.1,-52.4,-49.6,-46.4,-31,-28.7]),(-63,[-64.3,-62.2,-58.5,-55.9,-53.4,-47.8,-31.5,-28.7]),(-64.1,[-64.3,-61.3,-57.6,-50.8,-47.1,-29.6,-28.7]),
(-64.8,[-63.8,-53.8,-54.8]),(-65.7,[-54.3]),(-66.7,[-45.5,-42.7,-39.4,-38.5]),(-67.4,[-46.9]),(-68,[-46]),
(8.1,[-44.8]),(4.7,[-51]),(2.1,[-48.2]),(0.1,[-45.7]),(-1.3,[-41.7]),(-8.7,[-24]),(-5.2,[-36.7]),(-18.1,[-4.8]),(-9.5,[-35.5]),(-10.8,[-37.9,-36]),(-11.3,[-34.9]),(-12.4,[-33.9,-41.7]),
(-14.1,[-40.7]),(-13.5,[-39.1]),(-13.9,[-37.5]),(-14.9,[-35.6]),
(56.9,[-15]),(48,[-17]),(42.6,[-47.3]),(41.1,[-48.3]),(40.2,[-48.1]),(40,[-46.2]),(41,[-45]),(39.5,[-43.3,-41.4]),(43.5,[9.9]),(42.8,[10.3]),
(24.7,[-1.9]),(25.4,[6.3]),(25.2,[5.8]),
(-31.3,[-10]),(-32.9,[-9.8]),(-34,[-8.3]),(-36.2,[-9.3]),(-36.9,[-8.4]),(-36.7,[-7.9]),(-39.3,[-10]),(-40.6,[-8.9]),(-42.3,[-10.8]),
(-27,[-63,-59]),(-29,[-65,-60.5,-56.5,-53.5]),(-30,[-68.5,-64.5,-61,-56.5,-54]),(-31.9,[-70,-65.5,-63,-59,-55.5]),(-33.5,[-68.5,-64.5,-60,-57.5,-55]),
(-35,[-71.5,-69,-62.5,-60,-57,-54]),(-36.6,[-70.5,-67,-65,-60.5,-57.5,-55]),(-38,[-74,-70,-67,-63.5,-60.5,-57.5]),(-39.2,[-74,-72,-69.5,-64,-61]),
(-40.4,[-75,-72.5,-69,-67,-62,-59.5]),(-41.5,[-75.5,-72,-68.5,-64.5,-62,-59,-56.5]),(-42.6,[-72,-68,-62.5,-59,-57.5]),(-44,[-72.5,-69.5,-66,-59.5,-56]),
(-45.2,[-69.5,-66.5,-64.5,-57,-55]),(-47,[-74,-71,-68,-57.5,-54.5]),(-49,[-74,-71.5,-68.5,-60,-57,-55]),(-50.3,[-74.5,-72,-69.5,-66,-62,-58.5,-55.5]),
(-51.3,[-72,-70,-65,-61.5,-58.5,-56,-54]),(-52.6,[-74,-71,-69,-64.5,-61,-59,-55,-51]),(-54,[-71,-69,-63,-61,-57]),(-55,[-69.5,-66,-62,-59.5,-57.5,-51]),
(-57,[-66,-62.5,-59.5,-56.5,-53]),(-58,[-64,-60.5,-57.5,-54.5,-51]),(-59.2,[-63.5,-60,-56,-53,-50.5]),(-60.3,[-63.5,-60,-56.5,-52.5,-49.5]),(-61.4,[-62.8,-59.5,-55.5,-51,-48]),
(-62.5,[-63,-60,-57,-54.5,-49,-47]),(-63.6,[-63,-60,-55,-49]),
]
c8_olive = [
(49.7,[54.2]),(49.1,[34.1,35.2]),(47.6,[33.1,56.8]),(46.5,[35.2,56.8,40]),(45,[35,37,50.5]),(43.6,[32.2,35,36.6]),(42.3,[17.8,19,14.9,43.6,35,52.2,56.3,54.2]),
(41.4,[17.8,21.1,53.8,51.7]),(40.5,[29.1,30.8,35.4,21.1,52.6,55.5,57.2]),(39.2,[16.5,18.6,29.5,32,35,37.9,50,53.8,56.8,59.5,61.4,63.5]),
(37.9,[17.2,20.7,30.4,33.3,37.7,39.6,48.4,51.3,55.5,59.3,62.6]),(36.6,[17.4,23.2,28.7,31.2,33.7,40.4,50,53.4,56.8,60.1,63.5,66,68.5]),
(35.7,[32,36.4,38.7,41.3,45.9,51.3,53.8,56.8,60.9,63.9,66.8]),(34.8,[17.4,21.6,33.3,35.8,38.7,40.8,45.4,47.9,51.3,55.5,57.2,60.5,63,65.6,67.6]),
(33.8,[19.5,24.1,33.7,36.2,41.7,44.6,47.1,49.6,52.6,56.8,63,65.1]),(32.9,[21.6,29.3,31.6,34.6,39.2,41.3,44.2,49.6,52.1,56.8,59.5,61,69.7,70.2]),
(31.8,[22,33.7,36.2,42.1,45,47.5,50.9,53.8]),(30.7,[33.3,35,38.3,40.8,42.9,45.9,48.4,69.7]),(29.4,[31,37,40.4,42.9,45,47.5,70.2]),
(28.5,[21.9,32,36.4,40.4,42.9,45.9,48,55.3,71]),(27.4,[25.8,28,36.9,39.6,42.5,45.4,49.2,50.9,69.3,71.6]),(26.5,[25.5,28.3,29.5,37,40,42.9,46.3,48.4,52.6,54,69.7]),
(25.4,[23.4,28.3,34.6,37.5,40.4,47.9,51.3,69.7,71]),(24.3,[23.4,30.4,32.5,35.4,39.2,42.9,45,48.4,54.2,69.7]),(23.2,[23.4,29.5,31.6,34.6,37,40.4,43.8,46.7,52.1,57.6,67.6,72.3,69.3]),
(22.1,[30.4,32,35.8,38.7,41.3,43.8,45.9,48.4,54.7,58,63.9,67.6,70.2,75.4]),(21.2,[34.1,36.6,40.4,42.5,47.1,54.2,58.4,66,68.9,73.5]),
(20.2,[22,24.3,55.5,58.9,63.5,66.4,69.7,72.3,76.2]),(19.3,[21.1,24.1,34.8,59,62.2,65.1,67.6,69.7,75]),(18.2,[22,23.7,35.4,61.8,64.3,67.2,69.7,72.7]),
(17.5,[23.7,41.9,61.4,64.7,68.1,70.6,72.7]),(16.4,[22.4,24.1,60.9,63.5,65.1,67.6,70.2,72.7]),(14.9,[60.5,63,67.6,72.3]),(14.5,[49.6,60.9,62.6,65.6]),
(13,[31.2,46.1,67.2,70.2,73.9]),(12,[62.8,64.7,67.6]),(11,[22,70.8,72.3]),(10.5,[64.3,65.6,67.2,74.4]),(9.4,[22,23,63.7,49.4,68.9,72.3]),(8.8,[68.5,70.6]),
(7.7,[29.7,70.6]),(4.6,[26.4,26.2]),(3.3,[32.8,47.3]),(0.2,[28.7,45.2]),(-2.4,[43.6,44.2]),
(53,[-15.7]),(56.8,[-3.3]),(49.2,[-0.9]),(47.8,[7.7]),(51.3,[11]),(51.1,[11.8]),(39.7,[-41.6]),(43.7,[-18.2]),(44.5,[-9.8,-0.6,12.2,13]),(43.2,[-4.7]),(45.7,[-0.1]),(46.7,[1.1]),(44.9,[2.5]),
(42.8,[6.1]),(40.1,[4]),(42,[11.4]),
(32.2,[9.1]),(31.2,[9.4]),(28.6,[0.8]),(27.7,[3.7]),(29.8,[11.4]),(29.9,[13]),(31.7,[13]),(30.2,[10.2]),(26.3,[10.1]),(24.2,[8.9]),(24,[9.7]),(23.9,[11.1]),(22.6,[10.8]),
(-32,[-55.9]),(-25.8,[-14.3]),(-23.4,[0]),(-27.8,[-3.3]),(-31.1,[-6]),(-41.2,[-10.6]),(-42.1,[-9.2]),
(-15.4,[36.7]),(-17.9,[35.4]),(-14.6,[43.9]),(-15.5,[39.2]),(-22.5,[59.7]),
(38.5,[31,34,36.5,52,55,57.5]),(36,[34,37,39.5,52,55,58,61.5,65,67]),(35.2,[34,37.5,40,44,50,52.8,55,59,62,64.5]),(34.2,[34.5,37,39.5,42.5,46,48.5,50.5,54,58,61,64]),
(33.3,[33,35.5,38,40.5,43,45.5,48,51,54,57.5]),(32.3,[33,35,37.5,40,42.8,46,48.5,51,55]),(31.2,[34,37,39.5,41.8,44,47,49.5,52]),(30.1,[34,38,41.5,44,46.5,49]),
(28,[38,41.5,44,47,49.5]),(27,[38,41,44,47.5,50]),(26,[31,33,36,38.5,41.5,44.5,47]),(24.8,[30,33,36.5,38.5,41,44,46.5,49]),(23.8,[31,33.5,36,37.8,41,44,47,49.5]),
(22.7,[31,33,37,39.5,42,45,47.5]),(20.8,[61.5,63.5,65.5,67.5,70,72,74.5]),(19.8,[60,62,64.5,67,68.5,71,73.5]),(18.8,[60.5,63,65.5,68.5,71,73.5]),(17,[62,64,66.5,69,71.5]),
(15.7,[61.5,63,65,68.5,71,72.5]),(13.8,[62,64,66,68.5,71,72.5]),(12.5,[63.5,65.5,68.8,71.5]),(11.3,[63.5,65.5,67.5,69,71]),(37,[60.5,63.5,51.5,54.5,56.5]),(41,[52,54.5,56.3]),
(46,[34,36]),(44,[33.5,36.5]),(42,[34,36,38]),(40,[30,33,36.5,39.5]),(38.3,[29,31.5,41]),(41.5,[33.5,38]),
]
c9_cyan = [
(-14.4,[39,40.2]),(-15.3,[31,44]),(-16.2,[30.2,27.9,34,41.1,44,45.7]),(-17,[48.4,43.2,52.6,56.6,59.1]),(-17.7,[24.3,25.8,56.6,43.2]),(-18.6,[22.6,27.9,45.7,47.6,51.6]),
(-19.6,[31.4,32.3,34.8,41.3,52,54.3,60,63.1]),(-20.7,[22,27.7,26.4,45.7,48.2,50.7,64.3]),(-22,[20.1,40.7,43.4,47.4,51.6,53.2,60,58.7]),(-23,[19.9,24.3,44.6,47,49.4,52,55.3,64.1]),
(-24.3,[21.4,23.5,36.7,46.5,49,52,54.9,57.4,61.6,63.7]),(-25.6,[19.7,23.5,44.8,57.8,60.4,64.3]),(-26.7,[18.9,21.4,35.2,39.6,48.2,49.9,57.4]),(-27.8,[19.7,25.6,65.4]),
(-28.8,[17.6,20.1,30.2,40,44.6,46.1,57.4,61.4]),(-29.9,[20.5,15.5,48.6,50.3,64.5,66.6]),(-31,[15.1,17.6,20.1,24.7,54.1,63.1,65.4]),(-31.7,[18.9,32.5,41.7,26]),
(-32.8,[16.4,18.5,24.3,38.6,46.1,50.1,55.8,57.2]),(-33.9,[16.8,19.3,22,24.7,40.2,52.7]),(-35.4,[19.3,24.3,41.5]),(-36.3,[13.4,15.1,18,20.1,22.6,25.2]),
(-37.6,[11.1,13.4,17.6,20.5,23.5,26,32.2,36,62.7,63.9]),(-38.9,[13.8,16.8,22.6,24.7,27.7]),(-39.8,[11.7,14.3,16,21.8,24.3,26.4,28.1,36.9,40.7,62.7,63.9]),
(-41.3,[11.5,13.8,18.9,23,26,30,31.9,42.8]),(-42.4,[11.5,17.2,20.1,23.5,27.3,29.3,31.9,38.1,39,56.8,58]),(-43.8,[8.8,12.2,16.8,19.7,23,26.8,28.9,31,33.1,38.4]),
(-44.8,[8.2,10.3,13,16.1,18.9,22.6,26,28.5,31.4,34.6,50.5]),(-45.9,[10,11.7,16.4,20.5,25.6,28.9,32.3,35.2,54.1,58.9]),(-47,[12,16.1,19.3,23,26.4,28.5,31.9,33.5,41.1]),
(-48.1,[8.2,9.9,13.6,16.8,20.1,23.9,27.3,31,33.1,39.6,43.4,44.9,57.2]),(-49.4,[8.4,9.7,16.8,20.5,24.7,28.1,31.4,33.5,36.9,41.9,53,58.7,60.1]),
(-50.5,[11.7,15.1,19.3,23,27.3,32.3,36,43.4]),(-51.6,[12.6,16.4,19.7,23.9,26.4,29.3,31.4]),(-52.5,[10.5,14.3,18,21.8,26,29,32.3,41.1,55.1]),
(-53.4,[10,13.4,16.8,20.5,23.9,26.8,37.3,32,44.4,51.9]),(-54.5,[10.5,13.8,18.5,21.8,26]),(-55.8,[9.2,11.7,16,18,23.9,26.8,28.9,34.4,42.8,47.6]),
(-56.9,[9.7,11.5,14.3,17.4,21.4,26.6,29.8,43.8]),(-58.2,[9.9,14.3,20.5,23.5,26.8,37.3]),(-59.3,[15.5,19.3,21.8,26.4,28.5,41.5,44]),(-60.4,[10.7,16,20.5,24.3,27.3,37.1]),
(-61.5,[11.3,16,18.9,23,26.8,28.5]),(-62.4,[16.8,20.5,23.9,27.3,31.7,36.5,41.6]),(-63.5,[16.8,19.7,22.6,26.4,35.4]),(-64.6,[13.6,18.9,21.8,25.6,35.6,39]),
(-65.2,[13.6,17.4,20.5,25.2,28.9]),(-66.3,[19.3,22.4,26.8,31,32.9]),(-67,[23.7,32.3]),
(61.5,[5.4]),(58,[11.7]),(52.7,[6.4]),(23.6,[54.4]),(-0.7,[31.6]),(13,[72.5]),(12.1,[73.9]),(12.3,[74.6]),(8.8,[74.6]),(-18.6,[-3.1]),
(31.1,[7.7]),(30.1,[10.5]),(32,[11.8]),(30.9,[13.1]),(27.3,[-1.1]),(27.4,[-0.2]),(26.1,[1.7]),(25.1,[1]),(24.5,[-0.9]),(24.6,[11.1]),(23.6,[10.6]),
(-32.2,[17,19]),(-34.5,[17.5,20.5,23]),(-37,[14,16,18.5,21.5,24,26.5]),(-38.2,[12.5,15,18,20,22,25,27]),(-39.3,[13,15,18,20,23,25.5,27.5]),(-40.5,[13,15,20,24.5,27,29,31]),
(-41.9,[13,15.5,18,21,24.5,28,30.5,33]),(-43.2,[11,14,18,21,24.5,28,30,32]),(-44.3,[9.5,11.5,15,17.5,20.5,24.5,27.5,30,32.5,34]),(-45.3,[14.5,17.5,19.5,22,24,27,30,33.5,36]),
(-46.5,[14,17.5,21,24.5,27.5,30.5,34]),(-47.6,[14.5,18,21.5,25,28,30,32.5]),(-48.8,[15,18.5,22.5,25.5,29.5,32]),(-50,[13,16,18,21.5,24.5,26,29.5,31,34.5]),(-51,[13.5,17.5,21,24.5,28.5,30]),
(-52,[11.5,15.5,18,21,23,25,28,30.5]),(-53,[11.5,14.5,18.5,22,25,28.5,30.5]),(-54,[12,15,17,19.5,23,25,27.5]),(-55,[11,12.5,15,17,19.5,22,25,28]),(-57.5,[10.5,15.5,18.5,20.5,24,26.5]),
(-58.8,[16,18,20,24,25.5,28]),(-60,[17.5,22.5,25.5,27,29.5]),(-61,[17.5,20,22,25,27,29.5]),(-62,[18.5,22,25,28.5]),(-63,[18,21,24.5,28]),(-64,[17,20,24,27]),
(-27,[20,22]),(-30.5,[17,19,21.5]),(-33,[15.5,17.5,20.5,23]),(-35,[15.5,18,21,23]),(-21.5,[46.5,49,51,53,55]),(-24,[50,53,56]),(-19,[25,29]),
]

classes = [c0_blue, c1_orange, c2_green, c3_red, c4_purple, c5_brown, c6_pink, c7_gray, c8_olive, c9_cyan]
colors = ["#1f77b4", "#ff7f0e", "#2ca02c", "#d62728", "#9467bd", "#8c564b", "#e377c2", "#7f7f7f", "#bcbd22", "#17becf"]
x_ticks = [-80, -60, -40, -20, 0, 20, 40, 60, 80]
y_ticks = [-60, -40, -20, 0, 20, 40, 60, 80]

p = figure(frame_width=2325, frame_height=2311, output_backend="svg", toolbar_location=None,
           x_range=Range1d(-85.1, 84.6), y_range=Range1d(-76.7, 90.2),
           min_border_left=148, min_border_top=32, min_border_right=16, min_border_bottom=85)
p.grid.visible = False
p.outline_line_color = "black"
p.outline_line_width = 3

for rows, color in zip(classes, colors):
    xs = [x for y, row in rows for x in row]
    ys = [y for y, row in rows for x in row]
    p.scatter(xs, ys, size=31, marker="circle", fill_color=color, line_color=color, line_width=0)

for axis, ticks in ((p.xaxis[0], x_ticks), (p.yaxis[0], y_ticks)):
    axis.ticker = FixedTicker(ticks=ticks)
    axis.major_label_overrides = {t: str(t).replace("-", "\u2212") for t in ticks}
    axis.major_label_text_font = "DejaVu Sans"
    axis.major_label_text_font_size = "39px"
    axis.major_label_text_color = "black"
    axis.major_tick_in = 0
    axis.major_tick_out = 13
    axis.major_tick_line_width = 3
    axis.major_tick_line_color = "black"
    axis.minor_tick_line_color = None
    axis.axis_line_width = 3
    axis.axis_line_color = "black"
    axis.major_label_standoff = 14
p.xaxis[0].major_label_standoff = 18

open("out.html", "w").write(file_html(p, INLINE))
